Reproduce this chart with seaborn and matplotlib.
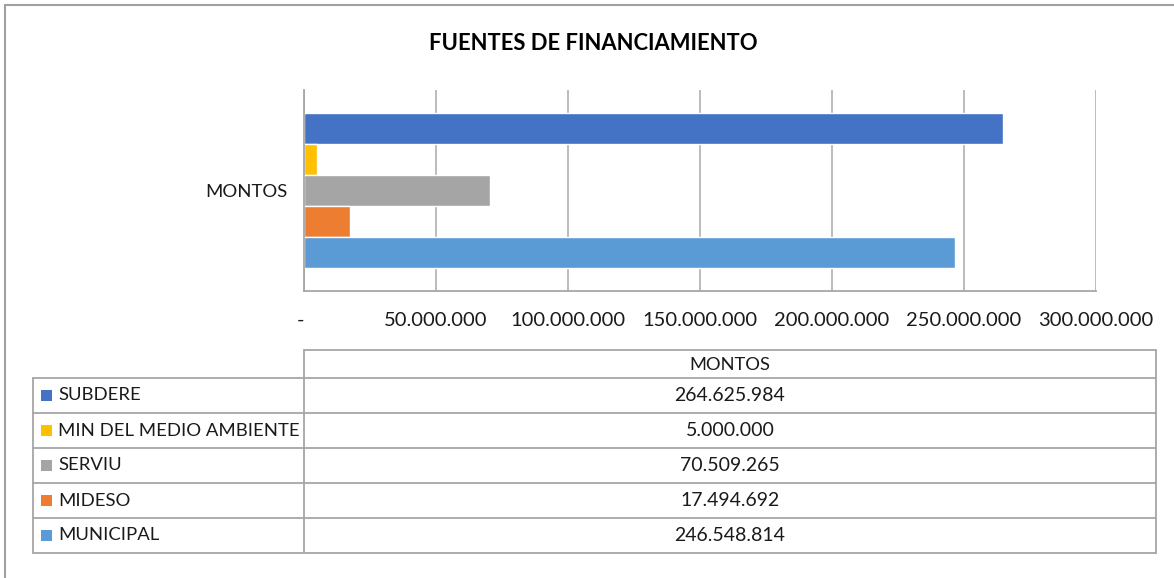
import matplotlib
matplotlib.use("Agg")
import matplotlib.pyplot as plt
import seaborn as sns
import pandas as pd
from matplotlib.lines import Line2D
from matplotlib.patches import Rectangle

# data
fuentes = ["SUBDERE", "MIN DEL MEDIO AMBIENTE", "SERVIU", "MIDESO", "MUNICIPAL"]
montos = [264625984, 5000000, 70509265, 17494692, 246548814]
colores = ["#4472C4", "#FFC000", "#A5A5A5", "#ED7D31", "#5B9BD5"]
categoria = "MONTOS"
titulo = "FUENTES DE FINANCIAMIENTO"
ticks = [0, 50000000, 100000000, 150000000, 200000000, 250000000, 300000000]

sns.set_style("white")
plt.rcParams["font.family"] = ["Lato", "DejaVu Sans"]

W, H = 1174, 578
fig = plt.figure(figsize=(W / 100, H / 100), dpi=100)
txt = "#1A1A1A"


def fx(x):
    return x / W


def fy(y):
    return 1 - y / H


def fmt(v):
    if v == 0:
        return "-"
    return f"{v:,.0f}".replace(",", ".")


df = pd.DataFrame({"cat": [categoria] * len(fuentes), "fuente": fuentes, "monto": montos})

# chart area in pixels: x 304..1096, y 90..291
ax = fig.add_axes([fx(304), fy(291), fx(1096) - fx(304), fy(90) - fy(291)])
sns.barplot(data=df, x="monto", y="cat", hue="fuente", hue_order=fuentes,
            palette=colores, orient="h", width=0.77, saturation=1,
            legend=False, ax=ax)
ax.set_xlim(0, 300000000)
ax.set_ylim(0.5, -0.5)
ax.set_xticks(ticks)
ax.set_xticklabels([fmt(t) for t in ticks], fontsize=14.5, color=txt)
ax.tick_params(axis="x", length=0, pad=15)
ax.tick_params(axis="y", length=0, pad=12, labelsize=13.3, labelcolor=txt)
ax.set_xlabel("")
ax.set_ylabel("")
ax.grid(axis="x", color="#B0B0B0", linewidth=1.2)
ax.set_axisbelow(True)
for s in ["top", "right"]:
    ax.spines[s].set_visible(False)
for s in ["left", "bottom"]:
    ax.spines[s].set_color("#A6A6A6")
    ax.spines[s].set_linewidth(1.3)
# "-" label sits left of the zero line
lbls = ax.get_xticklabels()
lbls[0].set_horizontalalignment("right")

fig.text(fx(593), fy(43), titulo, ha="center", va="center",
         fontsize=15.8, fontweight="bold", color="#000000")

# data table under the chart
line_kw = dict(color="#A6A6A6", linewidth=1.3)
x_left, x_mid, x_right = 33, 304, 1156
y_head, y_rows = 350, 378
row_h = 35
y_bottom = y_rows + row_h * len(fuentes)


def hline(x0, x1, y):
    fig.add_artist(Line2D([fx(x0), fx(x1)], [fy(y), fy(y)], **line_kw))


def vline(x, y0, y1):
    fig.add_artist(Line2D([fx(x), fx(x)], [fy(y0), fy(y1)], **line_kw))


hline(x_mid, x_right, y_head)
for i in range(len(fuentes) + 1):
    hline(x_left, x_right, y_rows + i * row_h)
vline(x_left, y_rows, y_bottom)
vline(x_mid, y_head, y_bottom)
vline(x_right, y_head, y_bottom)

fig.text(fx((x_mid + x_right) / 2), fy((y_head + y_rows) / 2 + 1.5), categoria,
         ha="center", va="center", fontsize=13.2, color=txt)
for i, (f, m, c) in enumerate(zip(fuentes, montos, colores)):
    yc = y_rows + row_h * (i + 0.5)
    fig.add_artist(Rectangle((fx(41), fy(yc + 5.5)), fx(11), fy(yc - 5.5) - fy(yc + 5.5),
                             facecolor=c, edgecolor="none"))
    fig.text(fx(58), fy(yc), f, ha="left", va="center", fontsize=13.3, color=txt)
    fig.text(fx((x_mid + x_right) / 2), fy(yc), fmt(m), ha="center", va="center",
             fontsize=14, color=txt)

# outer frame (top and left edges visible)
fig.add_artist(Line2D([fx(5), fx(W)], [fy(5), fy(5)], color="#A0A0A0", linewidth=1.5))
fig.add_artist(Line2D([fx(5), fx(5)], [fy(5), fy(H)], color="#A0A0A0", linewidth=1.5))

fig.savefig("out.png", dpi=100)
